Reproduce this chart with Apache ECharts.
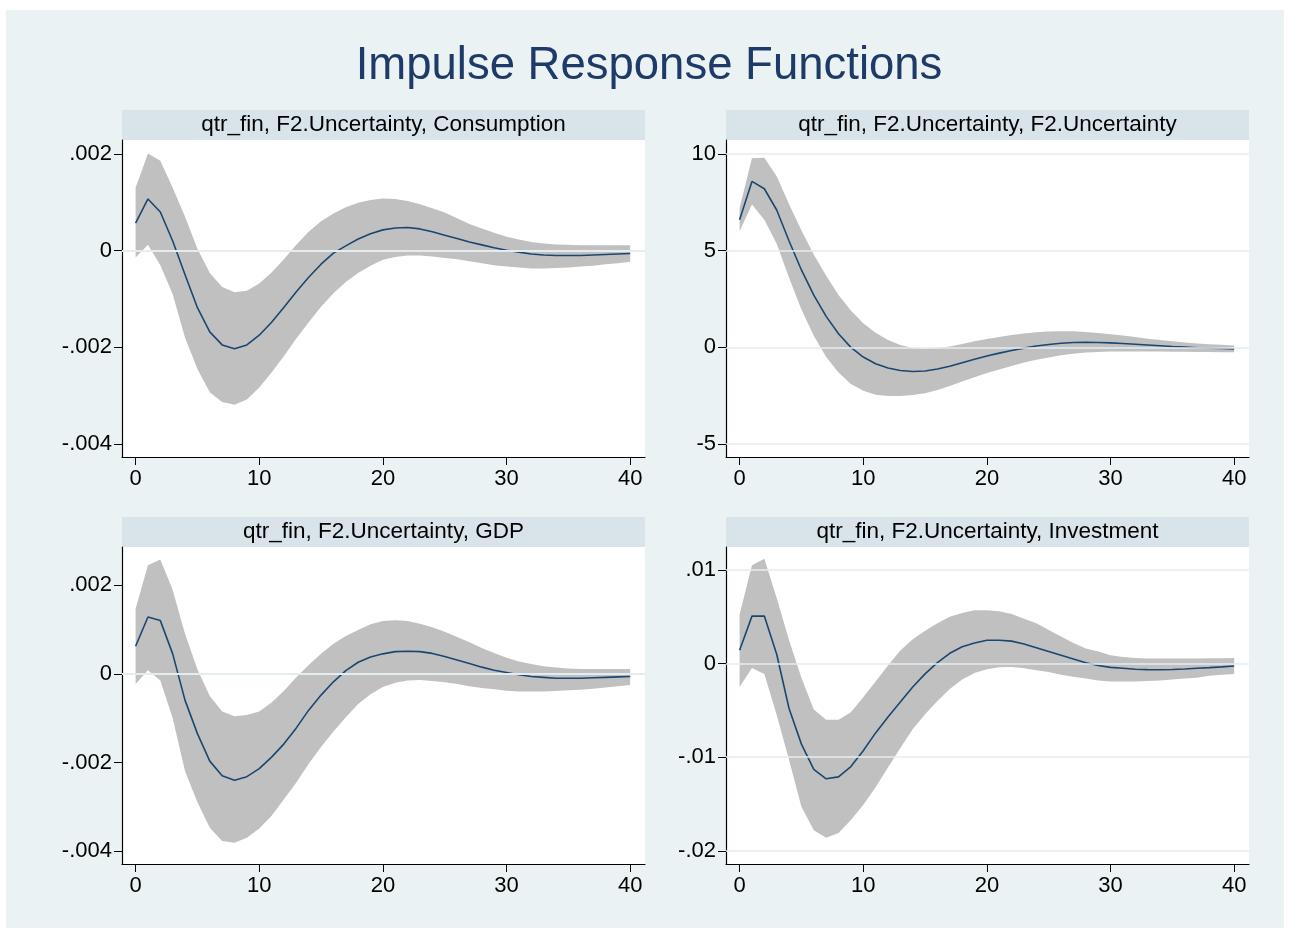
<!DOCTYPE html>
<html>
<head>
<meta charset="utf-8">
<title>Impulse Response Functions</title>
<script src="https://cdn.jsdelivr.net/npm/echarts@6/dist/echarts.min.js"></script>
<style>
  html, body { margin: 0; padding: 0; background: #fff; }
  #main { width: 1290px; height: 937px; }
</style>
</head>
<body>
<div id="main"></div>
<script>
// horizon (quarters)
var steps = [0, 1, 2, 3, 4, 5, 6, 7, 8, 9, 10, 11, 12, 13, 14, 15, 16, 17, 18, 19, 20,
  21, 22, 23, 24, 25, 26, 27, 28, 29, 30, 31, 32, 33, 34, 35, 36, 37, 38, 39, 40];

var panelTitles = [
  'qtr_fin, F2.Uncertainty, Consumption',
  'qtr_fin, F2.Uncertainty, F2.Uncertainty',
  'qtr_fin, F2.Uncertainty, GDP',
  'qtr_fin, F2.Uncertainty, Investment'
];

var xTicks = [0, 10, 20, 30, 40];
var yTicks1 = [-0.004, -0.002, 0, 0.002];
var yTicks2 = [-5, 0, 5, 10];
var yTicks3 = [-0.004, -0.002, 0, 0.002];
var yTicks4 = [-0.02, -0.01, 0, 0.01];

// Consumption
var irf1 = [0.00057, 0.00107, 0.0008, 0.0002, -0.0005, -0.00118, -0.00168, -0.00195, -0.00203, -0.00195,
  -0.00175, -0.00148, -0.00117, -0.00085, -0.00055, -0.00028, -0.00005, 0.0001, 0.00024, 0.00035,
  0.00043, 0.00047, 0.00048, 0.00045, 0.00039, 0.00032, 0.00025, 0.00018, 0.00012, 0.00006,
  0.00001, -0.00003, -0.00007, -0.00009, -0.0001, -0.0001, -0.0001, -0.00009, -0.00008, -0.00007, -0.00006];
var lo1 = [-0.00014, 0.00012, -0.0003, -0.0009, -0.0018, -0.00245, -0.00293, -0.00313, -0.00319, -0.00308,
  -0.00283, -0.00252, -0.00218, -0.00182, -0.00148, -0.00116, -0.00088, -0.00065, -0.00046, -0.00031,
  -0.00019, -0.00013, -0.0001, -0.0001, -0.00012, -0.00015, -0.00018, -0.00022, -0.00026, -0.0003,
  -0.00033, -0.00035, -0.00037, -0.00037, -0.00036, -0.00035, -0.00033, -0.00031, -0.00028, -0.00026, -0.00023];
var hi1 = [0.0013, 0.00201, 0.00186, 0.0013, 0.0007, 0.00004, -0.00046, -0.00075, -0.00086, -0.00083,
  -0.00068, -0.00045, -0.00018, 0.00012, 0.00039, 0.00061, 0.00077, 0.0009, 0.00099, 0.00105,
  0.00108, 0.00107, 0.00103, 0.00096, 0.00088, 0.00079, 0.00067, 0.00055, 0.00046, 0.00037,
  0.00029, 0.00023, 0.00018, 0.00015, 0.00013, 0.00012, 0.00011, 0.00011, 0.00011, 0.00011, 0.00011];

// Uncertainty
var irf2 = [6.6, 8.58, 8.2, 7.1, 5.5, 4.0, 2.7, 1.6, 0.7, 0.0,
  -0.5, -0.85, -1.07, -1.2, -1.25, -1.22, -1.12, -0.98, -0.8, -0.62,
  -0.45, -0.3, -0.16, -0.04, 0.07, 0.15, 0.21, 0.25, 0.26, 0.25,
  0.23, 0.2, 0.16, 0.12, 0.08, 0.04, 0.01, -0.02, -0.04, -0.06, -0.08];
var lo2 = [6.0, 7.38, 6.6, 5.35, 3.6, 1.95, 0.6, -0.5, -1.3, -1.9,
  -2.25, -2.45, -2.52, -2.52, -2.47, -2.37, -2.2, -2.0, -1.77, -1.55,
  -1.33, -1.14, -0.96, -0.79, -0.64, -0.52, -0.41, -0.33, -0.27, -0.24,
  -0.22, -0.21, -0.21, -0.21, -0.22, -0.23, -0.23, -0.24, -0.24, -0.25, -0.26];
var hi2 = [7.2, 9.78, 9.8, 8.85, 7.4, 6.05, 4.8, 3.7, 2.7, 1.9,
  1.25, 0.75, 0.38, 0.12, -0.03, -0.07, -0.04, 0.04, 0.17, 0.31,
  0.43, 0.54, 0.64, 0.71, 0.78, 0.82, 0.83, 0.83, 0.79, 0.74,
  0.68, 0.61, 0.53, 0.45, 0.38, 0.31, 0.25, 0.2, 0.16, 0.13, 0.1];

// GDP
var irf3 = [0.00062, 0.00128, 0.0012, 0.00045, -0.0006, -0.00135, -0.00197, -0.0023, -0.0024, -0.00232,
  -0.00214, -0.00188, -0.00158, -0.00122, -0.00082, -0.00048, -0.00018, 0.00007, 0.00026, 0.00038,
  0.00045, 0.0005, 0.00051, 0.0005, 0.00046, 0.00039, 0.00031, 0.00023, 0.00015, 0.00008,
  0.00003, -0.00002, -0.00006, -0.00008, -0.0001, -0.0001, -0.0001, -0.00009, -0.00008, -0.00007, -0.00006];
var lo3 = [-0.00023, 0.00008, -0.00015, -0.001, -0.0022, -0.0029, -0.00347, -0.00377, -0.00381, -0.0037,
  -0.00349, -0.0032, -0.00283, -0.00245, -0.00203, -0.00165, -0.0013, -0.00098, -0.00068, -0.00046,
  -0.0003, -0.0002, -0.00015, -0.00014, -0.00016, -0.00019, -0.00023, -0.00028, -0.00032, -0.00035,
  -0.00038, -0.0004, -0.0004, -0.0004, -0.00039, -0.00037, -0.00036, -0.00034, -0.00031, -0.00028, -0.00025];
var hi3 = [0.00147, 0.00245, 0.00258, 0.00189, 0.0009, 0.0001, -0.0005, -0.00085, -0.00096, -0.00093,
  -0.00085, -0.00065, -0.00038, -0.00008, 0.0002, 0.00045, 0.00068, 0.00085, 0.00099, 0.00112,
  0.00119, 0.00121, 0.00119, 0.00113, 0.00105, 0.00095, 0.00083, 0.00071, 0.00058, 0.00047,
  0.00036, 0.00028, 0.00022, 0.00017, 0.00014, 0.00012, 0.00011, 0.00011, 0.00011, 0.00011, 0.00011];

// Investment
var irf4 = [0.00143, 0.00507, 0.00507, 0.001, -0.0048, -0.0086, -0.0113, -0.0123, -0.0121, -0.011,
  -0.0093, -0.0074, -0.0057, -0.0041, -0.0025, -0.0011, 0.0001, 0.0011, 0.0018, 0.0022,
  0.0025, 0.0025, 0.0024, 0.0021, 0.0017, 0.0013, 0.0009, 0.0005, 0.0001, -0.0002,
  -0.0004, -0.0005, -0.0006, -0.00064, -0.00065, -0.00063, -0.00058, -0.0005, -0.00043, -0.00035, -0.00025];
var lo4 = [-0.0025, -0.00046, -0.0011, -0.0055, -0.0103, -0.0153, -0.0178, -0.0186, -0.0181, -0.0167,
  -0.0151, -0.0132, -0.0111, -0.009, -0.007, -0.0054, -0.004, -0.0027, -0.0017, -0.001,
  -0.0006, -0.0004, -0.00037, -0.0005, -0.0007, -0.0009, -0.0012, -0.0014, -0.0016, -0.0018,
  -0.0019, -0.0019, -0.0019, -0.00186, -0.0018, -0.0017, -0.0016, -0.0015, -0.0013, -0.0012, -0.0011];
var hi4 = [0.00525, 0.0105, 0.0112, 0.007, 0.0025, -0.0015, -0.0049, -0.006, -0.006, -0.0052,
  -0.0036, -0.0019, -0.0002, 0.0014, 0.0026, 0.0035, 0.0043, 0.005, 0.0054, 0.0057,
  0.0057, 0.0056, 0.0053, 0.0048, 0.0043, 0.0036, 0.0029, 0.0022, 0.0016, 0.0013,
  0.0009, 0.0007, 0.0006, 0.00055, 0.00054, 0.00054, 0.00054, 0.00055, 0.00057, 0.00058, 0.0006];

var FONT = "'Liberation Sans', Arial, Helvetica, sans-serif";
var BG = '#eaf2f3', STRIP = '#d8e4ea', BAND = '#c0c0c0', NAVY = '#1a476f', GRIDLINE = '#e4edf1';

// layout of the 4 panels (plot region in px)
var panels = [
  { irf: irf1, lo: lo1, hi: hi1, ticks: yTicks1, yMin: -0.00427, yMax: 0.00229, left: 122, top: 140 },
  { irf: irf2, lo: lo2, hi: hi2, ticks: yTicks2, yMin: -5.67, yMax: 10.72, left: 726, top: 140 },
  { irf: irf3, lo: lo3, hi: hi3, ticks: yTicks3, yMin: -0.00429, yMax: 0.00286, left: 122, top: 547 },
  { irf: irf4, lo: lo4, hi: hi4, ticks: yTicks4, yMin: -0.0214, yMax: 0.01245, left: 726, top: 547 }
];
var PW = 523, PH = 317, STRIP_H = 30;

//Stata style labels: .002, -.01, 0
function stataLabel(v) {
  if (v === 0) return '0';
  var s = String(+v.toPrecision(6));
  return s.replace(/^(-?)0\./, '$1.');
}

function bandRender(p) {
  return function(params, api) {
    if (params.dataIndex !== 0) return null;
    var pts = [];
    for (var i = 0; i < steps.length; i++) pts.push(api.coord([steps[i], p.hi[i]]));
    for (var j = steps.length - 1; j >= 0; j--) pts.push(api.coord([steps[j], p.lo[j]]));
    return { type: 'polygon', shape: { points: pts }, style: { fill: BAND } };
  };
}

var grids = [], xAxes = [], yAxes = [], series = [];
var graphics = [{
  type: 'rect', z: -100, silent: true,
  shape: { x: 6, y: 10, width: 1278, height: 918 },
  style: { fill: BG }
}, {
  type: 'text', silent: true,
  x: 649, y: 66,
  style: { text: 'Impulse Response Functions', fill: '#1e3a68', font: 'normal 45.5px ' + FONT, textAlign: 'center', textVerticalAlign: 'middle' }
}];

panels.forEach(function(p, k) {
  grids.push({
    left: p.left, top: p.top, width: PW, height: PH,
    show: true, backgroundColor: '#fff', borderWidth: 0
  });
  xAxes.push({
    gridIndex: k, type: 'value', min: -1.1, max: 41.2,
    splitLine: { show: false },
    axisLine: { show: true, onZero: false, lineStyle: { color: '#000', width: 1.2 } },
    axisTick: { show: true, length: 8, customValues: xTicks, lineStyle: { color: '#000', width: 1 } },
    axisLabel: { customValues: xTicks, margin: 11, fontSize: 22, color: '#000', fontFamily: FONT }
  });
  yAxes.push({
    gridIndex: k, type: 'value', min: p.yMin, max: p.yMax,
    splitLine: { show: false },
    axisLine: { show: true, onZero: false, lineStyle: { color: '#000', width: 1.2 } },
    axisTick: { show: true, length: 8, customValues: p.ticks, lineStyle: { color: '#000', width: 1 } },
    axisLabel: { customValues: p.ticks, margin: 10, fontSize: 22, color: '#000', fontFamily: FONT, formatter: stataLabel }
  });
  // horizontal grid lines at the y ticks
  series.push({
    type: 'line', xAxisIndex: k, yAxisIndex: k, data: [], z: 1, silent: true,
    markLine: {
      silent: true, symbol: ['none', 'none'], label: { show: false },
      lineStyle: { color: GRIDLINE, width: 1.5, type: 'solid' },
      data: p.ticks.map(function(v) { return { yAxis: v }; })
    }
  });
  // confidence band
  series.push({
    type: 'custom', xAxisIndex: k, yAxisIndex: k, z: 2, silent: true,
    renderItem: bandRender(p),
    data: steps.map(function(t, i) { return [t, p.lo[i], p.hi[i]]; }),
    encode: { x: 0, y: [1, 2] }
  });
  // irf line
  series.push({
    type: 'line', xAxisIndex: k, yAxisIndex: k, z: 3, silent: true,
    symbol: 'none', smooth: false,
    lineStyle: { color: NAVY, width: 1.6 },
    data: steps.map(function(t, i) { return [t, p.irf[i]]; })
  });
  // subtitle strip
  graphics.push({
    type: 'rect', silent: true,
    shape: { x: p.left, y: p.top - STRIP_H, width: PW, height: STRIP_H },
    style: { fill: STRIP }
  });
  graphics.push({
    type: 'text', silent: true,
    x: p.left + PW / 2, y: p.top - STRIP_H / 2,
    style: { text: panelTitles[k], fill: '#000', font: 'normal 22.5px ' + FONT, textAlign: 'center', textVerticalAlign: 'middle' }
  });
});

var chart = echarts.init(document.getElementById('main'));
chart.setOption({
  backgroundColor: '#fff',
  animation: false,
  grid: grids,
  xAxis: xAxes,
  yAxis: yAxes,
  series: series,
  graphic: { elements: graphics }
});
</script>
</body>
</html>
